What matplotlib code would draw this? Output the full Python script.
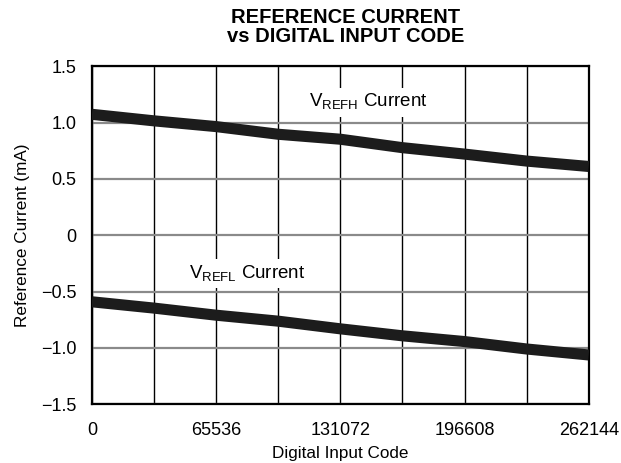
import numpy as np
import matplotlib
matplotlib.use("Agg")
import matplotlib.pyplot as plt
from matplotlib.ticker import MultipleLocator

plt.rcParams['font.family'] = ['Liberation Sans', 'DejaVu Sans']

# Values, one point every 32768 codes
codes = [0, 32768, 65536, 98304, 131072, 163840, 196608, 229376, 262144]
refh_current = [1.073, 1.015, 0.964, 0.896, 0.852, 0.777, 0.720, 0.658, 0.610]
refl_current = [-0.591, -0.647, -0.710, -0.763, -0.831, -0.893, -0.944, -1.010, -1.063]

x_ticks = [0, 65536, 131072, 196608, 262144]
y_ticks = [-1.5, -1.0, -0.5, 0, 0.5, 1.0, 1.5]
y_tick_labels = ['\u22121.5', '\u22121.0', '\u22120.5', '0', '0.5', '1.0', '1.5']


def main():
    fig = plt.figure(figsize=(6.21, 4.63), dpi=100)
    ax = fig.add_axes([0.148, 0.127, 0.800, 0.730])

    ax.plot(codes, refh_current, color='#1c1c1c', lw=8, solid_capstyle='butt', zorder=3)
    ax.plot(codes, refl_current, color='#1c1c1c', lw=8, solid_capstyle='butt', zorder=3)

    ax.set_xlim(0, 262144)
    ax.set_ylim(-1.5, 1.5)
    ax.set_xticks(x_ticks)
    ax.set_xticklabels([str(t) for t in x_ticks])
    ax.xaxis.set_minor_locator(MultipleLocator(32768))
    ax.set_yticks(y_ticks)
    ax.set_yticklabels(y_tick_labels)
    ax.tick_params(axis='both', which='both', length=0, labelsize=13)
    ax.tick_params(axis='x', pad=13)
    ax.tick_params(axis='y', pad=11)

    # grid: vertical black, horizontal gray
    ax.grid(True, axis='x', which='both', color='black', lw=1.0, zorder=1)
    ax.grid(True, axis='y', which='major', color='#8a8a8a', lw=1.6, zorder=1)
    ax.set_axisbelow(True)

    for s in ax.spines.values():
        s.set_linewidth(1.6)
        s.set_color('black')

    ax.set_xlabel('Digital Input Code', fontsize=12.3, labelpad=5)
    ax.set_ylabel('Reference Current (mA)', fontsize=12.3, labelpad=8)

    ax.text(145600, 1.18, 'V$_{\\mathregular{REFH}}$ Current', fontsize=13.5,
            ha='center', va='center', zorder=4,
            bbox=dict(facecolor='white', edgecolor='none', pad=3))
    ax.text(81750, -0.34, 'V$_{\\mathregular{REFL}}$ Current', fontsize=13.5,
            ha='center', va='center', zorder=4,
            bbox=dict(facecolor='white', edgecolor='none', pad=3))

    fig.text(0.557, 0.942, 'REFERENCE CURRENT\nvs DIGITAL INPUT CODE', fontsize=14.5,
             fontweight='bold', ha='center', va='center', linespacing=1.0)

    fig.savefig('out.png', dpi=100)


if __name__ == "__main__":
    main()
